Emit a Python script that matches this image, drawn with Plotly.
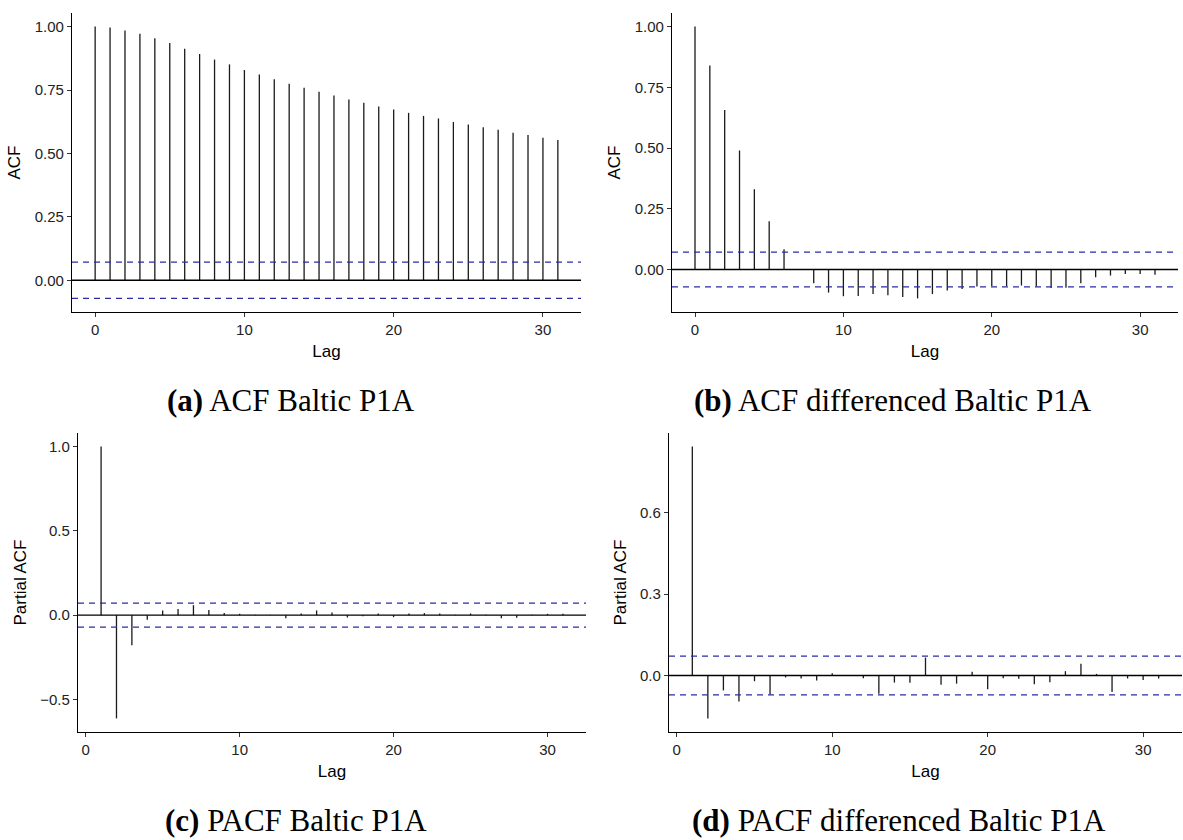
import plotly.graph_objects as go

# ---- data -----------------------------------------------------------------
lags_acf = list(range(0, 32))
lags_pacf = list(range(1, 32))

acf_level = [1.000, 0.996, 0.985, 0.972, 0.954, 0.935, 0.913, 0.892, 0.870, 0.851,
             0.829, 0.811, 0.792, 0.775, 0.759, 0.743, 0.728, 0.713, 0.700, 0.685,
             0.673, 0.660, 0.648, 0.638, 0.624, 0.614, 0.603, 0.593, 0.582, 0.573,
             0.562, 0.553]

acf_diff = [1.000, 0.840, 0.657, 0.490, 0.330, 0.199, 0.083, 0.002, -0.057, -0.095,
            -0.110, -0.109, -0.101, -0.106, -0.113, -0.119, -0.101, -0.086, -0.080, -0.070,
            -0.068, -0.068, -0.066, -0.070, -0.076, -0.075, -0.057, -0.032, -0.025, -0.019,
            -0.019, -0.022]

pacf_level = [0.999, -0.612, -0.179, -0.028, 0.028, 0.037, 0.059, 0.031, 0.012, 0.008,
              0.003, 0.002, -0.018, 0.010, 0.028, 0.016, -0.014, -0.006, 0.010, -0.012,
              0.010, 0.012, 0.010, 0.002, 0.010, 0.002, -0.018, -0.016, 0.002, 0.008,
              0.008]

pacf_diff = [0.843, -0.158, -0.055, -0.096, -0.021, -0.070, -0.007, -0.011, -0.018, 0.008,
             0.001, -0.010, -0.067, -0.026, -0.027, 0.066, -0.034, -0.030, 0.014, -0.051,
             -0.010, -0.012, -0.032, -0.025, 0.016, 0.043, 0.006, -0.061, -0.011, -0.017,
             -0.011]

conf_limits = [0.0714, 0.0715, 0.0714, 0.0715]

y_titles = ["ACF", "ACF", "Partial ACF", "Partial ACF"]
y_tick_values = [[0.00, 0.25, 0.50, 0.75, 1.00],
                 [0.00, 0.25, 0.50, 0.75, 1.00],
                 [-0.5, 0.0, 0.5, 1.0],
                 [0.0, 0.3, 0.6]]
y_tick_format = [".2f", ".2f", ".1f", ".1f"]
x_tick_values = [0, 10, 20, 30]

captions = ["<b>(a)</b> ACF Baltic P1A",
            "<b>(b)</b> ACF differenced Baltic P1A",
            "<b>(c)</b> PACF Baltic P1A",
            "<b>(d)</b> PACF differenced Baltic P1A"]

panels = [
    (lags_acf, acf_level),
    (lags_acf, acf_diff),
    (lags_pacf, pacf_level),
    (lags_pacf, pacf_diff),
]

# ---- page geometry (pixels) ------------------------------------------------
W, H = 1183, 840
# plot-area boxes: left, right, top, bottom
boxes = [
    (72, 581, 13, 312),
    (672, 1178, 13, 312),
    (78, 586, 433, 732),
    (669, 1182, 433, 732),
]
caption_pos = [(291, 400), (893, 400), (296, 820), (899, 820)]

AXIS_FONT = "Liberation Sans, Arial, sans-serif"
CAPTION_FONT = "Liberation Serif, Times New Roman, serif"


def expanded(lo, hi, frac=0.05):
    pad = (hi - lo) * frac
    return [lo - pad, hi + pad]


fig = go.Figure()
shapes = []
annotations = []

for i, ((lags, vals), ci) in enumerate(zip(panels, conf_limits)):
    n = i + 1
    xa = "x" if n == 1 else f"x{n}"
    ya = "y" if n == 1 else f"y{n}"

    # vertical segments from zero to each coefficient
    xs, ys = [], []
    for lag, v in zip(lags, vals):
        xs += [lag, lag, None]
        ys += [0, v, None]
    fig.add_trace(go.Scatter(x=xs, y=ys, mode="lines",
                             line=dict(color="#1a1a1a", width=1.3),
                             hoverinfo="skip", showlegend=False,
                             xaxis=xa, yaxis=ya))

    # zero reference line and confidence band
    shapes.append(dict(type="line", xref=f"{xa} domain", yref=ya,
                       x0=0, x1=1, y0=0, y1=0,
                       line=dict(color="black", width=1.4)))
    for c in (ci, -ci):
        shapes.append(dict(type="line", xref=f"{xa} domain", yref=ya,
                           x0=0, x1=1, y0=c, y1=c,
                           line=dict(color="#2b2ba6", width=1.3, dash="6px,5px")))

    l, r, t, b = boxes[i]
    ylo = min(min(vals), -ci)
    yhi = max(max(vals), ci)
    xr = expanded(min(lags), max(lags))
    yr = expanded(ylo, yhi)

    axis_common = dict(showline=True, linecolor="black", linewidth=1.3,
                       ticks="outside", ticklen=4, tickwidth=1.1, tickcolor="#333333",
                       showgrid=False, zeroline=False,
                       tickfont=dict(family=AXIS_FONT, size=15, color="#222222"),
                       title_font=dict(family=AXIS_FONT, size=17, color="black"))

    fig.update_layout(**{
        ("xaxis" if n == 1 else f"xaxis{n}"): dict(
            domain=[l / W, r / W], anchor=ya, range=xr,
            tickmode="array", tickvals=x_tick_values,
            title=dict(text="Lag", standoff=7), **axis_common),
        ("yaxis" if n == 1 else f"yaxis{n}"): dict(
            domain=[1 - b / H, 1 - t / H], anchor=xa, range=yr,
            tickmode="array", tickvals=y_tick_values[i],
            tickformat=y_tick_format[i],
            title=dict(text=y_titles[i], standoff=9), **axis_common),
    })

    cx, cy = caption_pos[i]
    annotations.append(dict(text=captions[i], xref="paper", yref="paper",
                            x=cx / W, y=1 - cy / H, xanchor="center", yanchor="middle",
                            showarrow=False,
                            font=dict(family=CAPTION_FONT, size=31, color="black")))

fig.update_layout(width=W, height=H, margin=dict(l=0, r=0, t=0, b=0),
                  paper_bgcolor="white", plot_bgcolor="white",
                  shapes=shapes, annotations=annotations)

fig.write_html("out.html")
